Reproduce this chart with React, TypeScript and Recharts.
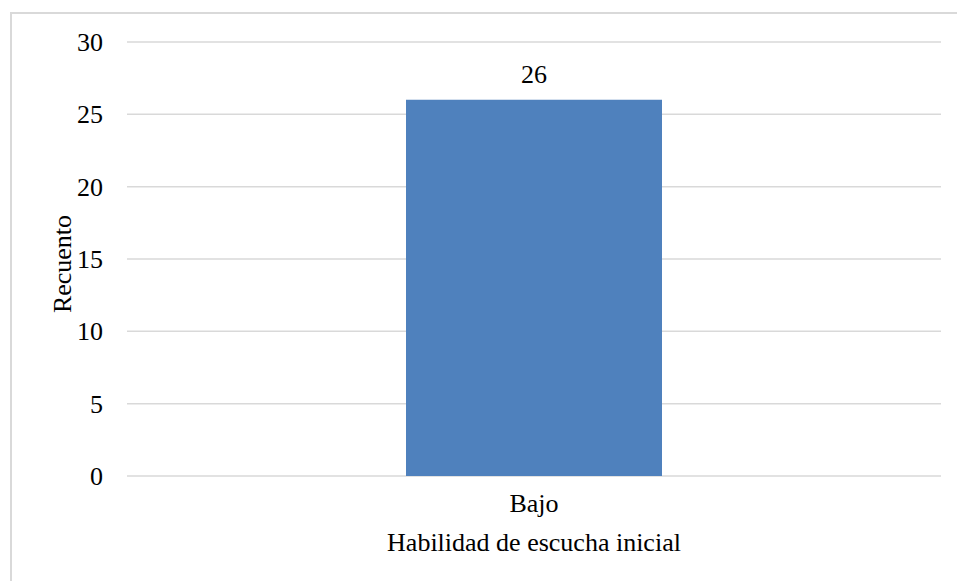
import React from "react";
import {
  Bar,
  BarChart,
  CartesianGrid,
  LabelList,
  XAxis,
  YAxis,
} from "recharts";

const categories = ["Bajo"];
const counts = [26];
const yTicks = [0, 5, 10, 15, 20, 25, 30];

const data = categories.map((name, i) => ({ name, recuento: counts[i] }));

const font = '"Liberation Serif", "Times New Roman", serif';
const fs = 26;

const XTick = ({ x, y, payload }: any) => (
  <text
    x={x}
    y={y}
    dy={fs * 0.71}
    textAnchor="middle"
    fill="#000"
    fontSize={fs}
    fontFamily={font}
  >
    {payload.value}
  </text>
);

const YTick = ({ x, y, payload }: any) => (
  <text
    x={x}
    y={y}
    dy={fs * 0.34}
    textAnchor="end"
    fill="#000"
    fontSize={fs}
    fontFamily={font}
  >
    {payload.value}
  </text>
);

export default function App() {
  return (
    <div
      style={{
        position: "absolute",
        left: 0,
        top: 0,
        width: 957,
        height: 581,
        overflow: "hidden",
        background: "#fff",
      }}
    >
      {/* outer frame like the exported chart area */}
      <div
        style={{
          position: "absolute",
          left: 10,
          top: 12,
          width: 960,
          height: 600,
          border: "2px solid #d9d9d9",
          boxSizing: "border-box",
        }}
      />
      <div style={{ position: "absolute", left: 0, top: 0 }}>
        <BarChart
          width={957}
          height={581}
          data={data}
          margin={{ top: 42, right: 16, left: 0, bottom: 0 }}
          barSize={256}
        >
          <CartesianGrid vertical={false} stroke="#d9d9d9" strokeWidth={1.5} />
          <XAxis
            dataKey="name"
            axisLine={false}
            tickLine={false}
            tickSize={0}
            tickMargin={18}
            height={105}
            tick={<XTick />}
            label={({ viewBox }: any) => (
              <text
                x={viewBox.x + viewBox.width / 2}
                y={viewBox.y + viewBox.height - 30}
                textAnchor="middle"
                fill="#000"
                fontSize={fs}
                fontFamily={font}
              >
                Habilidad de escucha inicial
              </text>
            )}
          />
          <YAxis
            domain={[0, 30]}
            ticks={yTicks}
            interval={0}
            axisLine={false}
            tickLine={false}
            tickSize={0}
            tickMargin={24}
            width={127}
            tick={<YTick />}
            label={({ viewBox }: any) => {
              const cx = viewBox.x + 62;
              const cy = viewBox.y + viewBox.height / 2 + 5;
              return (
                <text
                  x={cx}
                  y={cy}
                  transform={`rotate(-90 ${cx} ${cy})`}
                  textAnchor="middle"
                  dominantBaseline="central"
                  fill="#000"
                  fontSize={fs}
                  fontFamily={font}
                >
                  Recuento
                </text>
              );
            }}
          />
          <Bar dataKey="recuento" fill="#4f81bd" isAnimationActive={false}>
            <LabelList
              dataKey="recuento"
              position="top"
              offset={17}
              fill="#000"
              fontSize={fs}
              fontFamily={font}
            />
          </Bar>
        </BarChart>
      </div>
    </div>
  );
}
